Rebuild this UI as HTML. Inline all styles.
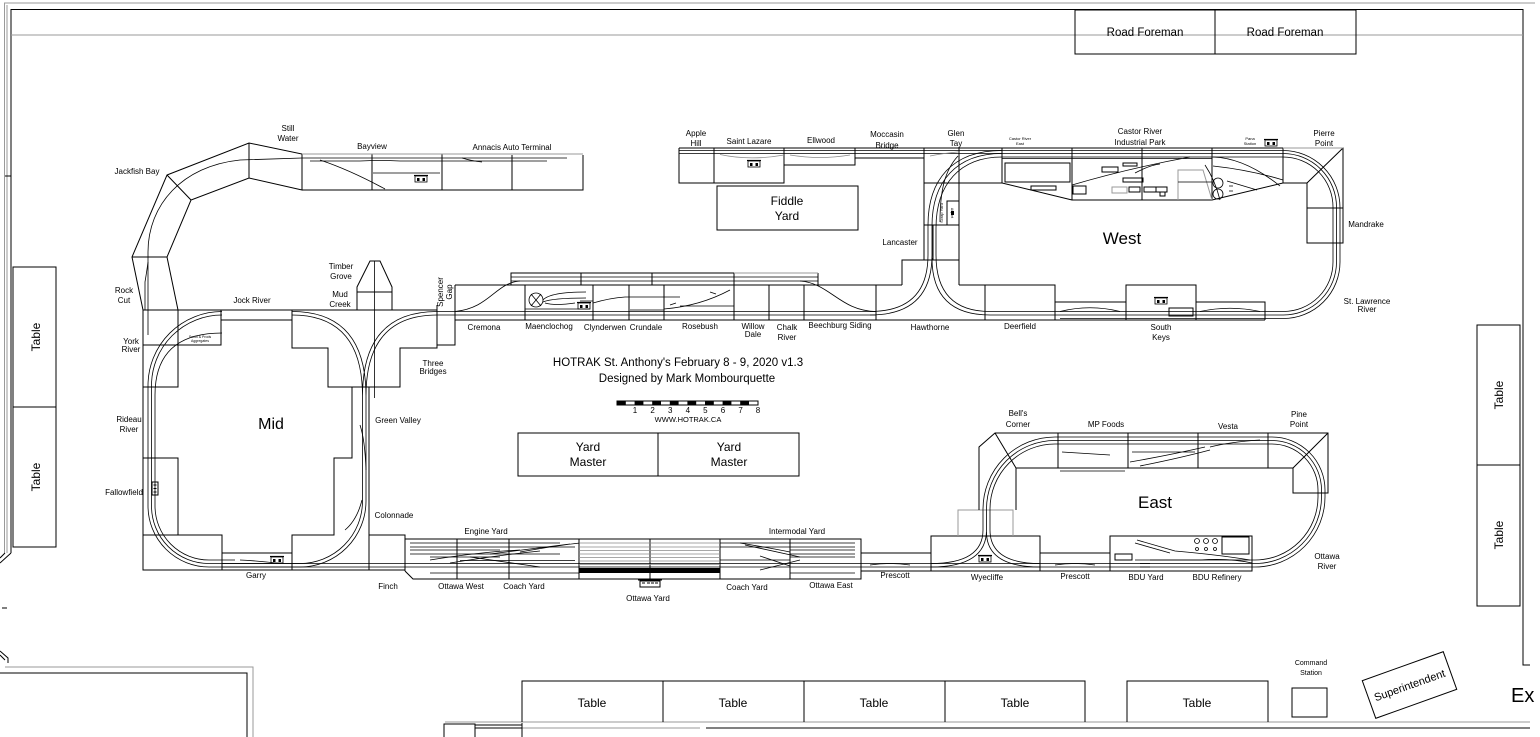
<!DOCTYPE html>
<html><head><meta charset="utf-8"><style>
html,body{margin:0;padding:0;background:#fff;width:1540px;height:737px;overflow:hidden}
svg text{font-family:"Liberation Sans",Arial,sans-serif;font-size:8px;text-anchor:middle;fill:#000}
.b{fill:none;stroke:#000;stroke-width:1}
.t{fill:none;stroke:#000;stroke-width:0.8}
.g{fill:none;stroke:#9a9a9a;stroke-width:1}
.gt{fill:none;stroke:#8a8a8a;stroke-width:0.8}
.big{font-size:16px}
.mid{font-size:12px}
.tiny{font-size:4px}
</style></head><body>
<svg xmlns="http://www.w3.org/2000/svg" width="1540" height="737" viewBox="0 0 1540 737">
<defs>
<g id="st"><path d="M-7 -3.5 H7" stroke="#000" stroke-width="1.2"/><rect x="-6" y="-3" width="12" height="6" fill="#fff" stroke="#000" stroke-width="0.8"/><rect x="-4" y="-1" width="2.5" height="3" fill="#000"/><rect x="1.5" y="-1" width="2.5" height="3" fill="#000"/></g>
</defs>

<!-- walls -->
<path class="g" d="M4.5 553 V3 H1535"/>
<path class="g" d="M7 553 V5"/>
<path class="b" stroke-width="1.3" d="M11 553 V9.5 H1523 V665 H1530"/>
<path class="g" stroke-width="1.6" d="M11 35 H1523"/>
<path class="b" d="M5 176 H11 M11 553 L0 563 M5 553 L0 558 M2 608 H7"/>
<path class="b" d="M0 651 L8 658 V663 M0 655 L5 660"/>
<path class="g" stroke-width="1.2" d="M5 667 H253 V737"/>
<path class="b" d="M0 673 H247 V737"/>
<path class="g" stroke-width="1.6" d="M445 722 H1530"/>
<path class="b" d="M706 728 H1530"/>
<path class="g" stroke-width="1.6" d="M522 728 H700"/>
<path class="b" d="M444 737 V724 H475 V737 M475 725 H522 M475 728 H522 M522 723 V737"/>

<!-- tables -->
<rect class="b" x="13" y="267" width="43" height="140"/>
<rect class="b" x="13" y="407" width="43" height="140"/>
<text class="mid" transform="translate(40 337) rotate(-90)">Table</text>
<text class="mid" transform="translate(40 477) rotate(-90)">Table</text>
<rect class="b" x="1477" y="325" width="43" height="140"/>
<rect class="b" x="1477" y="465" width="43" height="141"/>
<text class="mid" transform="translate(1503 395) rotate(-90)">Table</text>
<text class="mid" transform="translate(1503 535) rotate(-90)">Table</text>
<path class="b" d="M522 722 V681 H1085 V722 M663 681 V722 M804 681 V722 M945 681 V722 M1127 722 V681 H1268 V722"/>
<text class="mid" x="592" y="707">Table</text>
<text class="mid" x="733" y="707">Table</text>
<text class="mid" x="874" y="707">Table</text>
<text class="mid" x="1015" y="707">Table</text>
<text class="mid" x="1197" y="707">Table</text>

<!-- road foreman -->
<rect class="b" x="1075" y="10" width="281" height="44"/>
<path class="b" d="M1215 10 V54"/>
<text style="font-size:11.5px" x="1145" y="36">Road Foreman</text>
<text style="font-size:11.5px" x="1285" y="36">Road Foreman</text>

<!-- command / superintendent -->
<rect class="b" x="1292" y="688" width="35" height="29"/>
<text style="font-size:7px" x="1311" y="665">Command</text>
<text style="font-size:7px" x="1311" y="675">Station</text>
<g transform="translate(1409.5 685) rotate(-19.7)"><rect class="b" x="-43" y="-20" width="86" height="40"/><text style="font-size:11px" y="4">Superintendent</text></g>
<text style="font-size:20px;text-anchor:start" x="1511" y="702">Ex</text>

<!-- Jackfish arc -->
<path class="b" d="M167 175 L249 143 L302 154 L302 190 L249 178 L191 200 L167 257 L178 310 L143 310 L132 257 Z M167 175 L191 200 M249 143 V178 M132 257 H167"/>
<path class="t" d="M148 335 V252 C148 205 182 166 240 160 L302 158"/>
<path class="t" d="M145 310 V282 Q147 270 148 262"/>
<!-- Bayview / Annacis -->
<path class="b" d="M302 190 H583 V155 M372 154 V190 M442 154 V190 M512 155 V190"/>
<path class="g" d="M302 154 H583"/>
<path class="t" d="M302 158 H567 M310 161 H360 Q380 160 400 161 H547"/>
<path class="t" d="M320 160 Q350 170 385 189 M373 173 H440 M462 158 Q472 161 482 162"/>
<use href="#st" x="421" y="179"/>

<!-- Apple Hill row -->
<path class="b" d="M679 148 H1002 M679 148 V183 H784 V148 M714 148 V183 M784 165 H855 V148 M855 158 H924"/>
<path class="t" d="M679 150.5 H1002 M679 153.5 H1002"/>
<path class="gt" d="M720 154.5 Q750 161 784 155 M790 155 Q820 160 850 155 M930 156 Q945 153 958 152"/>
<use href="#st" x="754" y="164"/>
<!-- Fiddle yard -->
<rect class="b" x="717" y="186" width="141" height="44"/>
<text class="mid" x="787" y="205">Fiddle</text>
<text class="mid" x="787" y="220">Yard</text>

<!-- Glen Tay / Lancaster -->
<path class="b" d="M924 148 V260 M959 148 V285 M924 183 H1002 M924 225 H959 M933 225 V260 M902 285 V260 H959"/>
<rect class="b" x="947" y="201" width="12" height="24"/>
<rect x="951" y="211" width="3" height="4" fill="#000"/>
<text class="tiny" transform="translate(943 213) rotate(-90)">Scrap Yard</text>
<text style="font-size:3.5px" transform="translate(951 213) rotate(90)">Airport</text>
<!-- Castor River -->
<path class="b" d="M1002 148 H1283 M1002 148 V183 L1072 200 H1212 L1283 183 V148 M1072 148 V200 M1142 148 V200 M1212 148 V200"/>
<path class="b" d="M1005 163 H1070 V182 H1005 Z M1031 186 H1056 V190 H1031 Z M1102 167 H1118 V172 H1102 Z M1123 163 H1137 V166 H1123 Z M1123 178 H1143 V182 H1123 Z M1073 186 H1086 V194 H1073 Z M1129 187 H1140 V192 H1129 Z M1144 187 H1156 V192 H1144 Z M1156 187 H1167 V192 H1156 Z M1160 192 H1165 V196 H1160 Z"/>
<path class="g" d="M1112 187 H1127 V193 H1112 Z M1178 200 V170 H1203 L1212 200"/>
<path class="t" d="M1002 158.5 H1212 M1072 185 Q1130 168 1190 157 M1213 157 Q1245 158 1280 186 M1213 166 Q1250 170 1283 180 M1205 165 Q1215 180 1220 200 M1178 182 H1212 M1135 173 Q1150 165 1160 164"/>
<circle class="t" cx="1218" cy="183" r="5"/><circle class="t" cx="1218" cy="194" r="5"/>
<path class="t" d="M1227 181 L1257 190 M1229 186 H1233 M1229 191 H1233"/>
<use href="#st" x="1271" y="143"/>
<!-- Pierre Point / Mandrake -->
<path class="b" d="M1283 148 H1343 V243 H1307 V183 H1283 M1343 148 L1307 183 M1307 208 H1343"/>
<path class="g" d="M1283 148 H1343"/>

<!-- West bottom row -->
<path class="b" d="M876 285 H902 M876 285 V320 M959 285 H1055 V320 M985 285 V320 M1055 302 H1126 M1126 320 V285 H1196 V320 M1196 302 H1265 V320 M455 320 H1265"/>
<rect class="b" x="1169" y="308" width="24" height="8"/>
<use href="#st" x="1161" y="301"/>
<path class="t" d="M1060 311.5 Q1090 304 1120 311.5 M1200 311.5 Q1230 305 1260 311.5"/>

<!-- West oval tracks -->
<path class="t" d="M1002 150.5 H1283 A57 57 0 0 1 1340 207.5 V262 A56.5 56.5 0 0 1 1283.5 318.5 H1060"/>
<path class="t" d="M1002 153.5 H1283 A53.5 53.5 0 0 1 1336.5 207 V262 A53 53 0 0 1 1283.5 315 H990"/>
<path class="t" d="M1002 157 H1283 A50 50 0 0 1 1333 207 V262 A49.5 49.5 0 0 1 1283.5 311.5 H990"/>
<path class="t" d="M1002 150.5 C952 150.5 928 180 928 225 V255 Q928 311.5 870 311.5"/>
<path class="t" d="M1002 153.5 C956 153.5 932 182 932 226 V255 Q932 315 870 315"/>
<path class="t" d="M1002 157 C960 157 936 184 936 228 V255 Q936 311.5 990 311.5"/>
<path class="t" d="M932 258 Q932 315 990 315"/>
<path class="t" d="M958 156 C945 170 940 190 940 222"/>

<!-- Cremona strip -->
<path class="b" d="M455 285 H876 M525 285 V320 M593 285 V320 M629 285 V320 M664 285 V320 M734 285 V320 M769 285 V320 M804 285 V320 M511 285 V273 H734 M818 285 V273 M581 273 V285 M652 273 V285 M734 273 V285"/>
<path class="g" d="M734 273 H818"/>
<path class="t" d="M511 277 H818 M511 281 H818"/>
<path class="t" d="M437 311.5 H876 M437 315 H876"/>
<path class="t" d="M455 311.5 C490 308 495 283 520 281 M800 281 C830 283 840 311 876 311.5"/>
<circle class="t" cx="536" cy="300" r="7"/>
<path class="t" d="M531 294 L541 306 M541 294 L531 306 M543 300 Q550 292 586 292 M543 302 Q552 298 586 298 M545 303 Q555 306 575 303 M580 301 H593"/>
<use href="#st" x="584" y="306"/>
<path class="t" d="M593 303 Q610 298 625 297 H680 M664 309 Q700 306 730 290 M630 310 H664"/>
<path class="t" d="M525 309 H590 M680 306 H734 M670 305 L676 303 M710 292 L716 294"/>

<!-- Mid module boxes -->
<path class="b" d="M143 310 H437 M292 310 V348 H328 V387 H400 V348 H437 V305 M437 345 H455 V285 M221 310 V345 H143 M178 310 V387 H143 M143 310 V570 H405 V535 H369 M221 320 H292 M352 387 V458 H334 V535 H292 V570 M369 387 V570 M143 458 H178 V535 M143 535 H222 V570 M222 553 H292"/>
<path class="b" d="M357 310 V287 L370 261 H380 L392 287 V310 M357 292 H392"/>
<path class="t" d="M374.5 261 V398"/>
<text style="font-size:3.5px" x="200" y="338">Smith &amp; Prods</text>
<text style="font-size:3.5px" x="200" y="342">Aggregates</text>

<!-- Mid oval tracks -->
<path class="t" d="M222 311.5 A74 74 0 0 0 148 385.5 V506 A61 61 0 0 0 209 567 H300 A66 66 0 0 0 366 501 V396"/>
<path class="t" d="M222 315 A70.5 70.5 0 0 0 151.5 385.5 V506 A57.5 57.5 0 0 0 209 563.5 H300 A62.5 62.5 0 0 0 362.5 501 V396"/>
<path class="t" d="M222 333 Q155 333 155 395 V506 A54 54 0 0 0 209 560 H235"/>
<path class="t" d="M362.5 396 Q362.5 315 292 315 M366 396 Q366 311.5 292 311.5 M366 396 Q366 315 437 315 M362.5 396 Q362.5 311.5 437 311.5"/>
<path class="t" d="M366 470 Q365 440 360 425 M362 500 Q357 520 345 530"/>
<rect class="b" x="152" y="482" width="6" height="13" fill="#fff"/>
<path class="b" d="M153.5 485 H156.5 M153.5 488.5 H156.5 M153.5 492 H156.5"/>
<use href="#st" x="277" y="560"/>
<path class="t" d="M240 560 Q260 561 280 563.5"/>

<!-- Ottawa yard -->
<path class="b" d="M405 571 V539 H861 V579 H413 L405 571 M457 539 V579 M509 539 V579 M579 539 V579 M650 539 V579 M720 539 V579 M790 539 V579"/>
<path class="t" d="M222 563.5 H1150 M222 567 H1150"/>
<path class="t" d="M410 543 H560 M410 547 H575 M410 550 H500 M410 554 H560 M430 557 H500 M460 560.5 H575 M430 573 H579"/>
<path class="t" d="M430 560 Q480 552 520 550 M450 563 Q500 555 540 551 M490 554 L570 544 M520 552 Q560 545 580 543 M470 557 L540 567"/>
<path class="gt" d="M579 543 H720 M579 547 H720 M579 550.5 H720 M579 554 H720 M579 557.5 H720 M579 561 H720 M579 564.5 H720"/>
<rect x="579" y="568" width="141" height="5" fill="#000"/>
<path class="b" stroke-width="1.8" d="M579 579 H720"/>
<path class="t" d="M720 543 H855 M720 547 H855 M790 550 H855 M790 554 H855 M790 557 H855 M720 560 H790 M790 573 H855"/>
<path class="t" d="M740 543 Q770 548 790 552 M745 545 L800 557 M760 556 L790 566 M760 570 L800 560"/>
<rect class="b" x="640" y="581" width="20" height="6" fill="#fff"/>
<path class="b" stroke-width="1.2" d="M638 580 H662"/>
<path class="b" d="M642 583 H645 M647 583 H650 M651 583 H654 M655 583 H658"/>

<!-- East area boxes -->
<path class="b" d="M861 553 H931 M861 571 H931 M931 536 H1040 V571 H931 Z M1040 553 H1110 M1040 571 H1110 M1110 536 H1252 V571 H1110 Z"/>
<path class="g" d="M958 536 V510 H1013 V536"/>
<rect class="b" x="1222" y="537" width="27" height="17"/>
<circle class="t" cx="1197" cy="541" r="2.5"/><circle class="t" cx="1206" cy="541" r="2.5"/><circle class="t" cx="1215" cy="541" r="2.5"/>
<circle class="t" cx="1197" cy="549" r="1.5"/><circle class="t" cx="1206" cy="549" r="1.5"/><circle class="t" cx="1215" cy="549" r="1.5"/>
<rect class="b" x="1115" y="554" width="17" height="6"/>
<path class="t" d="M1135 543 L1170 553 M1137 540 L1175 551 M1135 560 H1200 Q1230 558 1252 563 M1175 551 Q1220 555 1250 560"/>
<use href="#st" x="985" y="559"/>
<path class="b" d="M979 510 V447 L995 433 H1328 V493 H1293 V468 M1328 433 L1293 468 M995 433 L1016 468 M1016 510 V468 H1293 M1058 433 V468 M1128 433 V468 M1198 433 V468 M1268 433 V468"/>
<path class="t" d="M1062 452 L1110 455 M1132 452 H1195 M1060 471 H1125 M1075 468 H1128 M1130 462 Q1170 455 1205 447 M1140 466 Q1180 458 1210 450 M1210 447 Q1230 442 1260 440"/>
<!-- East oval tracks -->
<path class="t" d="M1140 567 H1255 A70 70 0 0 0 1325 497 V490 A53 53 0 0 0 1272 437 H1055 A72 72 0 0 0 983 509 V530"/>
<path class="t" d="M1140 563.5 H1255 A66.5 66.5 0 0 0 1321.5 497 V490 A49.5 49.5 0 0 0 1272 440.5 H1055 A68.5 68.5 0 0 0 986.5 509 V530"/>
<path class="t" d="M1150 560 H1255 A63 63 0 0 0 1318 497 V490 A46 46 0 0 0 1272 444 H1055 A65 65 0 0 0 990 509 V530"/>
<path class="t" d="M983 530 Q983 563.5 931 563.5 M986.5 530 Q986.5 567 931 567 M990 530 Q990 563.5 1040 563.5 M986.5 532 Q986.5 567 1040 567"/>
<path class="t" d="M870 565 Q890 562 910 565 M1055 565 Q1075 562 1095 565"/>

<!-- title / scale -->
<text style="font-size:11.5px" x="678" y="366">HOTRAK St. Anthony's February 8 - 9, 2020 v1.3</text>
<text style="font-size:11.5px" x="687" y="382">Designed by Mark Mombourquette</text>
<rect class="b" x="617" y="401" width="141" height="4" fill="#fff"/>
<g fill="#000"><rect x="617" y="401" width="8.8" height="4"/><rect x="634.6" y="401" width="8.8" height="4"/><rect x="652.2" y="401" width="8.8" height="4"/><rect x="669.8" y="401" width="8.8" height="4"/><rect x="687.4" y="401" width="8.8" height="4"/><rect x="705" y="401" width="8.8" height="4"/><rect x="722.6" y="401" width="8.8" height="4"/><rect x="740.2" y="401" width="8.8" height="4"/></g>
<g style="font-size:7.5px"><text x="635" y="413">1</text><text x="652.6" y="413">2</text><text x="670.2" y="413">3</text><text x="687.8" y="413">4</text><text x="705.4" y="413">5</text><text x="723" y="413">6</text><text x="740.6" y="413">7</text><text x="758" y="413">8</text></g>
<text style="font-size:7.5px" x="688" y="422">WWW.HOTRAK.CA</text>
<rect class="b" x="518" y="433" width="281" height="43"/>
<path class="b" d="M658 433 V476"/>
<text class="mid" x="588" y="451">Yard</text><text class="mid" x="588" y="466">Master</text>
<text class="mid" x="729" y="451">Yard</text><text class="mid" x="729" y="466">Master</text>

<!-- big labels -->
<text class="big" x="271" y="429">Mid</text>
<text class="big" style="font-size:17px" x="1122" y="244">West</text>
<text class="big" style="font-size:17px" x="1155" y="508">East</text>

<!-- labels -->
<text x="288" y="131">Still</text><text x="288" y="141">Water</text>
<text x="372" y="149">Bayview</text>
<text x="512" y="150">Annacis Auto Terminal</text>
<text x="137" y="174">Jackfish Bay</text>
<text x="124" y="293">Rock</text><text x="124" y="303">Cut</text>
<text x="252" y="303">Jock River</text>
<text x="341" y="269">Timber</text><text x="341" y="279">Grove</text>
<text x="340" y="297">Mud</text><text x="340" y="307">Creek</text>
<text transform="translate(443 292) rotate(-90)">Spencer</text>
<text transform="translate(452 292) rotate(-90)">Gap</text>
<text x="131" y="344">York</text><text x="131" y="352">River</text>
<text x="433" y="366">Three</text><text x="433" y="374">Bridges</text>
<text x="484" y="330">Cremona</text>
<text x="549" y="329">Maenclochog</text>
<text x="605" y="330">Clynderwen</text>
<text x="646" y="330">Crundale</text>
<text x="700" y="329">Rosebush</text>
<text x="753" y="329">Willow</text><text x="753" y="337">Dale</text>
<text x="787" y="330">Chalk</text><text x="787" y="340">River</text>
<text x="840" y="328">Beechburg Siding</text>
<text x="930" y="330">Hawthorne</text>
<text x="1020" y="329">Deerfield</text>
<text x="1161" y="330">South</text><text x="1161" y="340">Keys</text>
<text x="1367" y="304">St. Lawrence</text><text x="1367" y="312">River</text>
<text x="1366" y="227">Mandrake</text>
<text x="1324" y="136">Pierre</text><text x="1324" y="146">Point</text>
<text x="1140" y="134">Castor River</text><text x="1140" y="145">Industrial Park</text>
<text x="956" y="136">Glen</text><text x="956" y="146">Tay</text>
<text x="887" y="137">Moccasin</text><text x="887" y="148">Bridge</text>
<text x="821" y="143">Ellwood</text>
<text x="749" y="144">Saint Lazare</text>
<text x="696" y="136">Apple</text><text x="696" y="146">Hill</text>
<text x="900" y="245">Lancaster</text>
<text class="tiny" x="1020" y="140">Castor River</text><text class="tiny" x="1020" y="145">East</text>
<text class="tiny" x="1250" y="140">Pana</text><text class="tiny" x="1250" y="145">Station</text>
<text x="398" y="423">Green Valley</text>
<text x="129" y="422">Rideau</text><text x="129" y="432">River</text>
<text x="124" y="495">Fallowfield</text>
<text x="394" y="518">Colonnade</text>
<text x="256" y="578">Garry</text>
<text x="388" y="589">Finch</text>
<text x="461" y="589">Ottawa West</text>
<text x="486" y="534">Engine Yard</text>
<text x="524" y="589">Coach Yard</text>
<text x="648" y="601">Ottawa Yard</text>
<text x="747" y="590">Coach Yard</text>
<text x="797" y="534">Intermodal Yard</text>
<text x="831" y="588">Ottawa East</text>
<text x="895" y="578">Prescott</text>
<text x="987" y="580">Wyecliffe</text>
<text x="1075" y="579">Prescott</text>
<text x="1146" y="580">BDU Yard</text>
<text x="1217" y="580">BDU Refinery</text>
<text x="1327" y="559">Ottawa</text><text x="1327" y="569">River</text>
<text x="1299" y="417">Pine</text><text x="1299" y="427">Point</text>
<text x="1228" y="429">Vesta</text>
<text x="1106" y="427">MP Foods</text>
<text x="1018" y="416">Bell's</text><text x="1018" y="427">Corner</text>
</svg>
</body></html>
